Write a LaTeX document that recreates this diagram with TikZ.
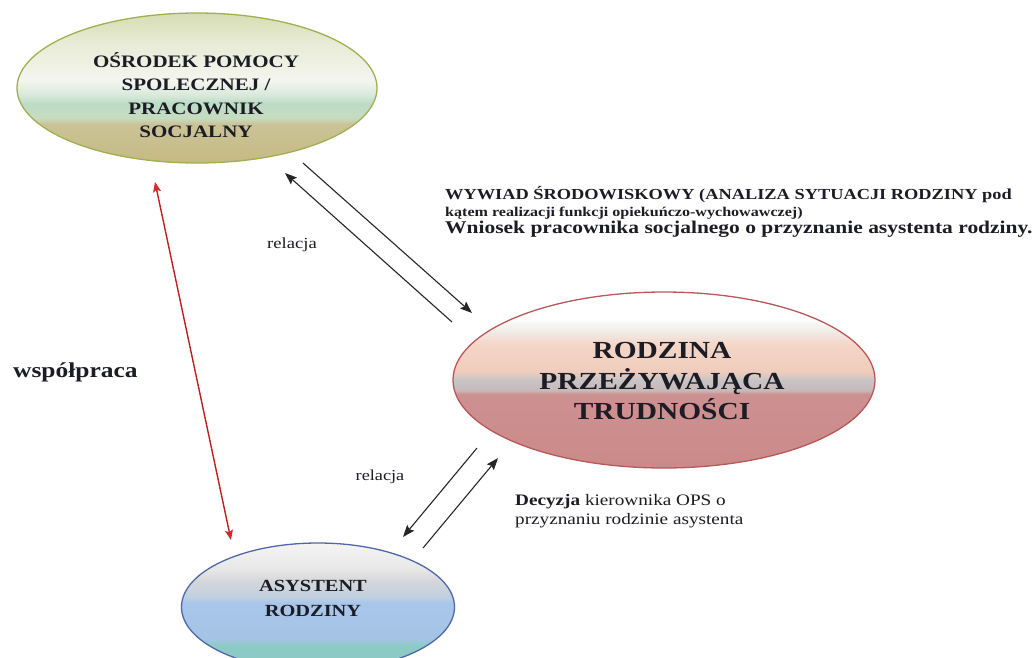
\documentclass[tikz,border=0pt]{standalone}
\usepackage{fontspec}
\setmainfont{Liberation Serif}[FakeStretch=1.2]
\usetikzlibrary{arrows.meta,shapes.geometric}
% colours
\definecolor{opsA}{HTML}{D6DDB2}
\definecolor{opsB}{HTML}{E8EBD6}
\definecolor{opsC}{HTML}{F4F5EF}
\definecolor{opsD}{HTML}{D8E8DA}
\definecolor{opsE}{HTML}{BCDCC6}
\definecolor{opsF}{HTML}{C6DCC0}
\definecolor{opsG}{HTML}{CBC398}
\definecolor{opsH}{HTML}{C5BA82}
\definecolor{opsLine}{HTML}{A0B050}
\definecolor{famA}{HTML}{FFFFFF}
\definecolor{famB}{HTML}{F0ECE8}
\definecolor{famC}{HTML}{F4D6C6}
\definecolor{famD}{HTML}{F0CCBC}
\definecolor{famE}{HTML}{C8C4C6}
\definecolor{famF}{HTML}{C8B8B8}
\definecolor{famG}{HTML}{CD9090}
\definecolor{famH}{HTML}{CB8A8A}
\definecolor{famLine}{HTML}{B85858}
\definecolor{asyA}{HTML}{F4F4F4}
\definecolor{asyB}{HTML}{E8E8E8}
\definecolor{asyC}{HTML}{D4D6DA}
\definecolor{asyD}{HTML}{C0D0E0}
\definecolor{asyE}{HTML}{A8C6EA}
\definecolor{asyF}{HTML}{A4C4E4}
\definecolor{asyG}{HTML}{8CCAC6}
\definecolor{asyLine}{HTML}{5068A8}
\definecolor{txt}{HTML}{1C1C24}
\definecolor{redarr}{HTML}{D42A2A}
\definecolor{redarrDark}{HTML}{8A1010}
% shadings: 25bp = bottom of shape, 75bp = top of shape
\pgfdeclareverticalshading{opsshade}{100bp}{color(0bp)=(opsH); color(25bp)=(opsH); color(38bp)=(opsG); color(40bp)=(opsF); color(45bp)=(opsE); color(47.5bp)=(opsD); color(52.5bp)=(opsC); color(65bp)=(opsB); color(75bp)=(opsA); color(100bp)=(opsA)}
\pgfdeclareverticalshading{famshade}{100bp}{color(0bp)=(famH); color(25bp)=(famH); color(46bp)=(famG); color(47bp)=(famF); color(50bp)=(famE); color(52.5bp)=(famD); color(60bp)=(famC); color(64bp)=(famB); color(67.5bp)=(famA); color(100bp)=(famA)}
\pgfdeclareverticalshading{asyshade}{100bp}{color(0bp)=(asyG); color(25bp)=(asyG); color(35bp)=(asyG); color(37.5bp)=(asyF); color(51.5bp)=(asyE); color(54bp)=(asyD); color(60bp)=(asyC); color(65bp)=(asyB); color(75bp)=(asyA); color(100bp)=(asyA)}
\tikzset{
  blob/.style={ellipse, inner sep=0pt, outer sep=0pt, line width=1.3pt},
  lbl/.style={align=center, text=txt, inner sep=0pt},
  small/.style={text=txt, inner sep=0pt},
  relarrow/.style={draw=black!85, line width=1.1pt, -{Stealth[length=12pt,width=9pt,inset=2pt]}},
  coop/.style={draw=redarr, line width=1.4pt, {Stealth[length=10pt,width=8pt,inset=2pt]}-{Stealth[length=10pt,width=8pt,inset=2pt]},
     postaction={draw=redarrDark, line width=0.6pt, dash pattern=on 1.5pt off 1.5pt, arrows=-, shorten <=9pt, shorten >=9pt}}
}
\begin{document}
\begin{tikzpicture}[x=1pt,y=-1pt]
\useasboundingbox (0,0) rectangle (1034,657);
\clip (0,0) rectangle (1034,657);
\fill[white] (0,0) rectangle (1034,657);

% ellipses
\node[blob, draw=opsLine, shading=opsshade, minimum width=360pt, minimum height=150pt] (ops) at (197,88) {};
\node[blob, draw=famLine, shading=famshade, minimum width=422pt, minimum height=176pt] (fam) at (664,380) {};
\node[blob, draw=asyLine, shading=asyshade, minimum width=273pt, minimum height=128pt] (asy) at (318,607) {};

% ellipse labels
\node[lbl, font=\bfseries\fontsize{17.5}{23.3}\selectfont] (opst) at (196,95) {OŚRODEK POMOCY\\SPOLECZNEJ /\\PRACOWNIK\\SOCJALNY};
\node[lbl, font=\bfseries\fontsize{24.5}{30.5}\selectfont] (famt) at (662,381) {RODZINA\\PRZEŻYWAJĄCA\\TRUDNOŚCI};
\node[lbl, font=\bfseries\fontsize{17}{25}\selectfont] (asyt) at (313,598) {ASYSTENT\\RODZINY};

% connector end points
\coordinate (a1s) at (303,163);
\coordinate (a1e) at (472,313);
\coordinate (a2s) at (452,322);
\coordinate (a2e) at (285,173);
\coordinate (b1s) at (477,448);
\coordinate (b1e) at (403,537);
\coordinate (b2s) at (423,548);
\coordinate (b2e) at (498,458);
\coordinate (r1) at (155,182);
\coordinate (r2) at (231,540);

\draw[relarrow] (a1s) -- (a1e);
\draw[relarrow] (a2s) -- (a2e);
\draw[relarrow] (b1s) -- (b1e);
\draw[relarrow] (b2s) -- (b2e);
\draw[coop] (r1) -- (r2);

% texts
\node[small, anchor=base west, font=\bfseries\fontsize{15.3}{17}\selectfont] (w1) at (445,199) {WYWIAD ŚRODOWISKOWY (ANALIZA SYTUACJI RODZINY pod};
\node[small, anchor=base west, font=\bfseries\fontsize{13.4}{17}\selectfont] (w2) at (445,216) {kątem realizacji funkcji opiekuńczo-wychowawczej)};
\node[small, anchor=base west, font=\bfseries\fontsize{17.9}{20}\selectfont] (w3) at (445,233) {Wniosek pracownika socjalnego o przyznanie asystenta rodziny.};

\node[small, anchor=base west, font=\fontsize{16}{18}\selectfont] (d1) at (515,505) {\textbf{Decyzja} kierownika OPS o};
\node[small, anchor=base west, font=\fontsize{16}{18}\selectfont] (d2) at (515,524) {przyznaniu rodzinie asystenta};

\node[small, font=\fontsize{15.5}{18}\selectfont] (rel1) at (292,245) {relacja};
\node[small, font=\fontsize{15.2}{18}\selectfont] (rel2) at (380,477) {relacja};

\node[small, anchor=base west, font=\bfseries\fontsize{21.2}{24}\selectfont] (coopt) at (13,377) {współpraca};
\end{tikzpicture}
\end{document}
